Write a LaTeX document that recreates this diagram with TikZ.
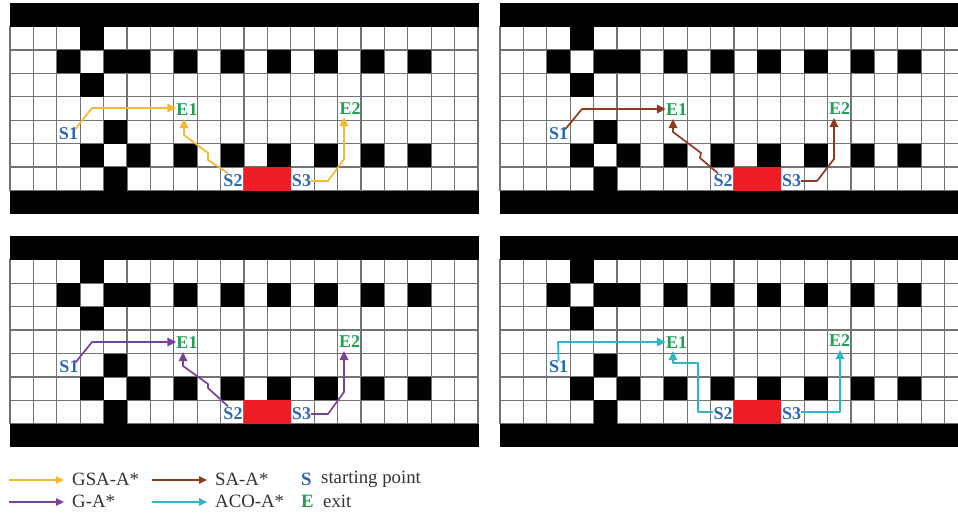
\documentclass[tikz,border=0pt]{standalone}
\usepackage{fontspec}
\setmainfont{Liberation Serif}
\usetikzlibrary{arrows.meta}
\definecolor{cgsa}{HTML}{F5B82E}
\definecolor{csa}{HTML}{8E3A1E}
\definecolor{cga}{HTML}{7B3FA0}
\definecolor{caco}{HTML}{2FB4C8}
\definecolor{cblue}{HTML}{2A68B0}
\definecolor{cgreen}{HTML}{1FA055}
\definecolor{cred}{HTML}{EE1C25}
\tikzset{
  x=1pt,y=-1pt,
  gridline/.style={draw=black!55,line width=1.3pt},
  blockcell/.style={fill=black},
  redcell/.style={fill=cred},
  startlabel/.style={font=\fontsize{18}{18}\selectfont\bfseries,text=cblue,inner sep=0pt},
  exitlabel/.style={font=\fontsize{18}{18}\selectfont\bfseries,text=cgreen,inner sep=0pt},
  route/.style={line width=1.7pt,-{Triangle[length=9pt,width=8.5pt]},line join=round},
  legendtext/.style={font=\fontsize{18.8}{19}\selectfont,text=black!80,inner sep=0pt,anchor=west},
  legendkey/.style={font=\fontsize{18.8}{19}\selectfont\bfseries,inner sep=0pt,anchor=west},
  legendroute/.style={line width=1.3pt,-{Triangle[length=8pt,width=7.5pt]}},
}
\newcommand{\gridpanel}[2]{%
 \begin{scope}[shift={(#1,#2)}]
  \draw[gridline] (10,26.5) rectangle (478,190.5);
  \foreach \i in {1,...,19}{\draw[gridline] ({10+23.4*\i},26.5) -- ({10+23.4*\i},190.5);}
  \foreach \j in {1,...,6}{\draw[gridline] (10,{26.5+23.43*\j}) -- (478,{26.5+23.43*\j});}
  \foreach \c/\r in {3/0,2/1,4/1,5/1,7/1,9/1,11/1,13/1,15/1,17/1,3/2,4/4,3/5,5/5,7/5,9/5,11/5,13/5,15/5,17/5,4/6}{
    \fill[blockcell] ({10+23.4*\c},{26.5+23.43*\r}) rectangle ++(23.4,23.43);}
  \fill[redcell] ({10+23.4*10},{26.5+23.43*6}) rectangle ++(46.8,23.43);
  \fill[blockcell] (9.5,3) rectangle (478.5,26.5);
  \fill[blockcell] (9.5,190.5) rectangle (478.5,214);
 \end{scope}}
\begin{document}
\begin{tikzpicture}
\useasboundingbox (0,0) rectangle (958,512);
\fill[white] (0,0) rectangle (958,512);
\gridpanel{0}{0}\gridpanel{490}{0}\gridpanel{0}{233.3}\gridpanel{490}{233.3}
% panel 1
\node[startlabel] (aS1) at (68.5,134) {S1};
\node[exitlabel] (aE1) at (187,110) {E1};
\node[exitlabel] (aE2) at (350,108.5) {E2};
\node[startlabel] (aS2) at (233,181) {S2};
\node[startlabel] (aS3) at (301.5,181) {S3};
\draw[route,cgsa] (aS1.north east) ++(-3,1.5) -- (92,108) -- (aE1.west|-0,108);
\draw[route,cgsa] (aS2.north) ++(-5,-1.5) -- (208,160) -- (208,153) -- (184,135) -- (184,119);
\draw[route,cgsa] (aS3.east) -- (328,181) -- (344,159) -- (344,117);
% panel 2
\node[startlabel] (bS1) at (558.5,134) {S1};
\node[exitlabel] (bE1) at (676.5,109.5) {E1};
\node[exitlabel] (bE2) at (839.5,108.5) {E2};
\node[startlabel] (bS2) at (723,181) {S2};
\node[startlabel] (bS3) at (791.5,181) {S3};
\draw[route,csa] (bS1.north east) ++(-3,1.5) -- (582,109) -- (bE1.west|-0,109);
\draw[route,csa] (bS2.north) ++(-5,-1.5) -- (700,158) -- (701,153) -- (673,132) -- (673,119);
\draw[route,csa] (bS3.east) -- (817,181) -- (834,159) -- (834,118);
% panel 3
\node[startlabel] (cS1) at (69,367) {S1};
\node[exitlabel] (cE1) at (187,342.5) {E1};
\node[exitlabel] (cE2) at (349.5,342) {E2};
\node[startlabel] (cS2) at (233,414) {S2};
\node[startlabel] (cS3) at (301.5,414) {S3};
\draw[route,cga] (cS1.north east) ++(-3,1.5) -- (92,342) -- (cE1.west|-0,342);
\draw[route,cga] (cS2.north) ++(-5,-1.5) -- (208,388) -- (208,384) -- (183,366) -- (183,352);
\draw[route,cga] (cS3.east) -- (328,414) -- (344,392) -- (344,351);
% panel 4
\node[startlabel] (dS1) at (558.5,367) {S1};
\node[exitlabel] (dE1) at (676.5,343) {E1};
\node[exitlabel] (dE2) at (839.5,341) {E2};
\node[startlabel] (dS2) at (723,414) {S2};
\node[startlabel] (dS3) at (791.5,414) {S3};
\draw[route,caco] (dS1.north) -- (558,342) -- (dE1.west|-0,342);
\draw[route,caco] (dS2.west|-0,412) -- (698,412) -- (698,363) -- (673,363) -- (673,351);
\draw[route,caco] (dS3.east|-0,412) -- (840,412) -- (840,350);
% legend
\coordinate (l1a) at (9,480); \coordinate (l1b) at (64,480);
\coordinate (l2a) at (9,502); \coordinate (l2b) at (64,502);
\coordinate (l3a) at (152,480); \coordinate (l3b) at (207,480);
\coordinate (l4a) at (152,502); \coordinate (l4b) at (207,502);
\draw[legendroute,cgsa] (l1a) -- (l1b);
\draw[legendroute,cga] (l2a) -- (l2b);
\draw[legendroute,csa] (l3a) -- (l3b);
\draw[legendroute,caco] (l4a) -- (l4b);
\node[legendtext] (t1) at (72,479) {GSA-A*};
\node[legendtext] (t2) at (72,501) {G-A*};
\node[legendtext] (t3) at (215,479) {SA-A*};
\node[legendtext] (t4) at (215,501) {ACO-A*};
\node[legendkey,text=cblue] (t5) at (301,479) {S};
\node[legendtext] (t6) at (321,479) {starting point};
\node[legendkey,text=cgreen] (t7) at (301,501) {E};
\node[legendtext] (t8) at (323,501) {exit};
\end{tikzpicture}
\end{document}
